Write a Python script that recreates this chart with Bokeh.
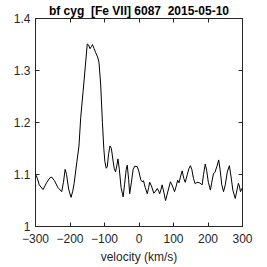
from bokeh.plotting import figure
from bokeh.models import FixedTicker, LinearAxis, Range1d
from bokeh.embed import file_html
from bokeh.resources import INLINE

title_text = "bf cyg\u00a0 [Fe VII] 6087\u00a0 2015-05-10"
x_label = "velocity (km/s)"
x_ticks = [-300, -200, -100, 0, 100, 200, 300]
y_ticks = [1.0, 1.1, 1.2, 1.3, 1.4]
y_tick_labels = ["1", "1.1", "1.2", "1.3", "1.4"]

velocity = [-300, -295, -289, -278, -268, -258, -253, -245, -235, -224, -219, -214,
            -210, -204, -197, -192, -188, -180, -174, -169, -162, -156, -150, -146,
            -142, -138, -135, -130, -126, -120, -116, -111, -106, -102, -99, -95,
            -92, -88, -84, -80, -76, -72, -68, -64, -61, -57, -52, -46, -42, -37,
            -34, -30, -27, -22, -17, -12, -5, 0, 5, 9, 13, 18, 24, 28, 31, 36, 43,
            48, 53, 57, 60, 64, 67, 72, 77, 84, 91, 97, 103, 108, 112, 116, 120,
            125, 130, 134, 140, 145, 149, 153, 158, 163, 168, 175, 180, 183, 187,
            192, 196, 201, 207, 211, 216, 220, 226, 231, 235, 240, 245, 250, 256,
            262, 267, 272, 279, 284, 288, 291, 294, 298, 300]
flux = [1.101, 1.093, 1.080, 1.071, 1.084, 1.094, 1.095, 1.088, 1.075, 1.067, 1.085,
        1.110, 1.100, 1.072, 1.056, 1.068, 1.083, 1.125, 1.155, 1.209, 1.260, 1.305,
        1.351, 1.349, 1.342, 1.346, 1.350, 1.342, 1.335, 1.326, 1.316, 1.272, 1.200,
        1.150, 1.125, 1.112, 1.115, 1.140, 1.155, 1.150, 1.130, 1.112, 1.105, 1.118,
        1.130, 1.110, 1.075, 1.057, 1.080, 1.110, 1.118, 1.090, 1.063, 1.085, 1.110,
        1.116, 1.115, 1.105, 1.090, 1.086, 1.088, 1.075, 1.063, 1.075, 1.085, 1.078,
        1.064, 1.068, 1.073, 1.068, 1.063, 1.072, 1.080, 1.066, 1.050, 1.068, 1.086,
        1.078, 1.067, 1.078, 1.089, 1.084, 1.095, 1.107, 1.092, 1.085, 1.100, 1.112,
        1.117, 1.110, 1.092, 1.082, 1.085, 1.084, 1.082, 1.080, 1.100, 1.120, 1.108,
        1.085, 1.070, 1.085, 1.102, 1.104, 1.116, 1.128, 1.110, 1.080, 1.067, 1.080,
        1.105, 1.117, 1.095, 1.070, 1.054, 1.070, 1.083, 1.078, 1.067, 1.073, 1.075]

FONT = "Liberation Sans"
AX = "#262626"

p = figure(width=267, height=267, output_backend="svg", toolbar_location=None,
           x_range=Range1d(-300, 300), y_range=Range1d(1.0, 1.4),
           min_border_left=35, min_border_right=25, min_border_top=5,
           min_border_bottom=41)
p.title.text = title_text
p.title.align = "center"
p.title.text_font = FONT
p.title.text_font_size = "12px"
p.title.text_font_style = "bold"
p.title.text_color = "black"
p.title.offset = 0
p.title.standoff = 2

p.line(velocity, flux, line_color="black", line_width=1)

p.grid.visible = False
p.background_fill_color = "white"
p.border_fill_color = "white"
p.outline_line_color = AX
p.outline_line_width = 1

labels = {v: s for v, s in zip(y_ticks, y_tick_labels)}

def style(ax, show_labels):
    ax.major_tick_in = 4
    ax.major_tick_out = 0
    ax.minor_tick_line_color = None
    ax.axis_line_color = AX
    ax.major_tick_line_color = AX
    ax.major_label_text_font = FONT
    ax.major_label_text_font_size = "12px"
    ax.major_label_text_color = AX
    if not show_labels:
        ax.major_label_text_font_size = "0px"
        ax.major_label_text_alpha = 0

xa = p.xaxis[0]
xa.ticker = FixedTicker(ticks=x_ticks)
style(xa, True)
xa.major_label_standoff = 7
xa.axis_label = x_label
xa.axis_label_text_font = FONT
xa.axis_label_text_font_size = "12px"
xa.axis_label_text_font_style = "normal"
xa.axis_label_text_color = AX
xa.axis_label_standoff = 4

ya = p.yaxis[0]
ya.ticker = FixedTicker(ticks=y_ticks)
ya.major_label_overrides = labels
style(ya, True)
ya.major_label_standoff = 5

top = LinearAxis(ticker=FixedTicker(ticks=x_ticks), major_label_standoff=0)
style(top, False)
p.add_layout(top, "above")
right = LinearAxis(ticker=FixedTicker(ticks=y_ticks), major_label_standoff=0)
style(right, False)
p.add_layout(right, "right")

open("out.html", "w").write(file_html(p, INLINE))
